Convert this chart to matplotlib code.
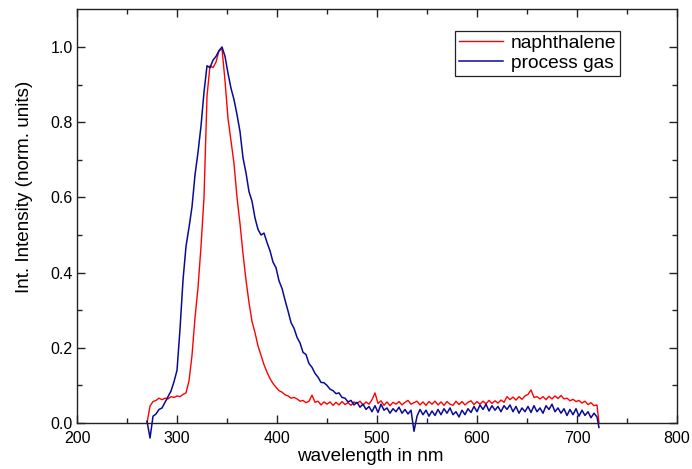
"""Normalised emission spectra: naphthalene vs. process gas."""

import matplotlib

matplotlib.use("Agg", force=True)
import matplotlib.pyplot as plt
import numpy as np

plt.rcParams["font.family"] = ["Liberation Sans", "DejaVu Sans"]

# wavelength grid (3 nm steps, last point is the cut-off)
wavelength = np.append(np.arange(270, 721, 3), 722)

naphthalene = [
    0.000, 0.045, 0.057, 0.060, 0.066, 0.062, 0.066, 0.064, 0.070, 0.068,  # 270
    0.072, 0.070, 0.076, 0.080, 0.112, 0.180, 0.280, 0.360, 0.470, 0.600,  # 300
    0.870, 0.950, 0.945, 0.960, 0.990, 0.995, 0.910, 0.810, 0.750, 0.690,  # 330
    0.600, 0.530, 0.450, 0.380, 0.320, 0.270, 0.240, 0.205, 0.180, 0.155,  # 360
    0.135, 0.118, 0.105, 0.095, 0.086, 0.082, 0.075, 0.072, 0.066, 0.068,  # 390
    0.064, 0.058, 0.060, 0.054, 0.058, 0.074, 0.055, 0.058, 0.048, 0.056,  # 420
    0.050, 0.056, 0.047, 0.055, 0.048, 0.057, 0.049, 0.054, 0.047, 0.056,  # 450
    0.052, 0.058, 0.048, 0.056, 0.050, 0.062, 0.080, 0.052, 0.059, 0.047,  # 480
    0.056, 0.046, 0.055, 0.050, 0.057, 0.048, 0.055, 0.060, 0.050, 0.054,  # 510
    0.058, 0.048, 0.056, 0.047, 0.057, 0.050, 0.058, 0.048, 0.056, 0.047,  # 540
    0.057, 0.050, 0.047, 0.058, 0.049, 0.057, 0.048, 0.055, 0.059, 0.049,  # 570
    0.057, 0.050, 0.058, 0.051, 0.060, 0.052, 0.059, 0.053, 0.061, 0.055,  # 600
    0.070, 0.062, 0.069, 0.061, 0.070, 0.063, 0.072, 0.076, 0.088, 0.068,  # 630
    0.070, 0.064, 0.070, 0.062, 0.071, 0.064, 0.072, 0.065, 0.073, 0.064,  # 660
    0.066, 0.059, 0.063, 0.057, 0.060, 0.053, 0.058, 0.049, 0.054, 0.046,  # 690
    0.048, 0.000,  # 720, 722
]

process_gas = [
    0.005, -0.040, 0.018, 0.024, 0.036, 0.040, 0.055, 0.070, 0.085, 0.110,  # 270
    0.140, 0.250, 0.380, 0.470, 0.520, 0.575, 0.660, 0.720, 0.790, 0.880,  # 300
    0.950, 0.945, 0.965, 0.975, 0.990, 1.000, 0.975, 0.930, 0.890, 0.860,  # 330
    0.820, 0.775, 0.705, 0.665, 0.615, 0.590, 0.545, 0.515, 0.500, 0.505,  # 360
    0.480, 0.458, 0.428, 0.413, 0.378, 0.358, 0.327, 0.298, 0.267, 0.252,  # 390
    0.228, 0.213, 0.188, 0.182, 0.158, 0.148, 0.132, 0.122, 0.108, 0.107,  # 420
    0.100, 0.090, 0.086, 0.078, 0.080, 0.068, 0.066, 0.056, 0.060, 0.048,  # 450
    0.055, 0.042, 0.050, 0.036, 0.044, 0.030, 0.046, 0.028, 0.050, 0.034,  # 480
    0.040, 0.026, 0.038, 0.030, 0.042, 0.026, 0.036, 0.024, 0.034, -0.022,  # 510
    0.018, 0.036, 0.022, 0.034, 0.018, 0.032, 0.020, 0.036, 0.022, 0.038,  # 540
    0.026, 0.040, 0.022, 0.030, 0.016, 0.034, 0.022, 0.038, 0.028, 0.044,  # 570
    0.030, 0.048, 0.036, 0.050, 0.032, 0.046, 0.034, 0.044, 0.030, 0.046,  # 600
    0.036, 0.048, 0.030, 0.044, 0.026, 0.040, 0.030, 0.044, 0.028, 0.046,  # 630
    0.030, 0.040, 0.026, 0.046, 0.036, 0.050, 0.030, 0.040, 0.026, 0.038,  # 660
    0.020, 0.036, 0.022, 0.038, 0.018, 0.034, 0.020, 0.030, 0.014, 0.026,  # 690
    0.016, -0.012,  # 720, 722
]

assert len(naphthalene) == len(wavelength) == len(process_gas)

fig = plt.figure(figsize=(6.92, 4.69), dpi=100)
ax = fig.add_axes([0.1113, 0.0981, 0.867, 0.8819])

ax.plot(wavelength, naphthalene, color="#ff0000", linewidth=1.0,
        label="naphthalene", clip_on=False)
ax.plot(wavelength, process_gas, color="#0a0a96", linewidth=1.1,
        label="process gas", clip_on=False)

ax.set_xlim(200, 800)
ax.set_ylim(0, 1.1)
ax.set_xticks(np.arange(200, 801, 100))
ax.set_xticks(np.arange(250, 800, 100), minor=True)
ax.set_yticks(np.arange(0, 1.01, 0.2))
ax.set_yticks(np.arange(0.1, 1.1, 0.2), minor=True)
ax.set_yticklabels([f"{v:.1f}" for v in np.arange(0, 1.01, 0.2)])

for side in ax.spines.values():
    side.set_linewidth(1.0)
    side.set_color("#222222")
ax.tick_params(which="both", direction="in", top=True, right=True,
               color="#222222", width=1.0)
ax.tick_params(which="major", length=6, labelsize=11.5)
ax.tick_params(axis="x", which="major", pad=6)
ax.tick_params(axis="y", which="major", pad=3)
ax.tick_params(which="minor", length=3.5)

ax.set_xlabel("wavelength in nm", fontsize=13.6)
ax.set_ylabel("Int. Intensity (norm. units)", fontsize=13.6)
ax.xaxis.set_label_coords(0.488, -0.060)
ax.yaxis.set_label_coords(-0.073, 0.571)

leg = ax.legend(loc="upper left", bbox_to_anchor=(0.63, 0.948), fontsize=13.8,
                frameon=True, fancybox=False, framealpha=1, edgecolor="#222222",
                borderpad=0.2, labelspacing=0.12, handlelength=2.3,
                handletextpad=0.4, borderaxespad=0)
leg.get_frame().set_linewidth(0.9)

fig.savefig("out.png", dpi=100)
